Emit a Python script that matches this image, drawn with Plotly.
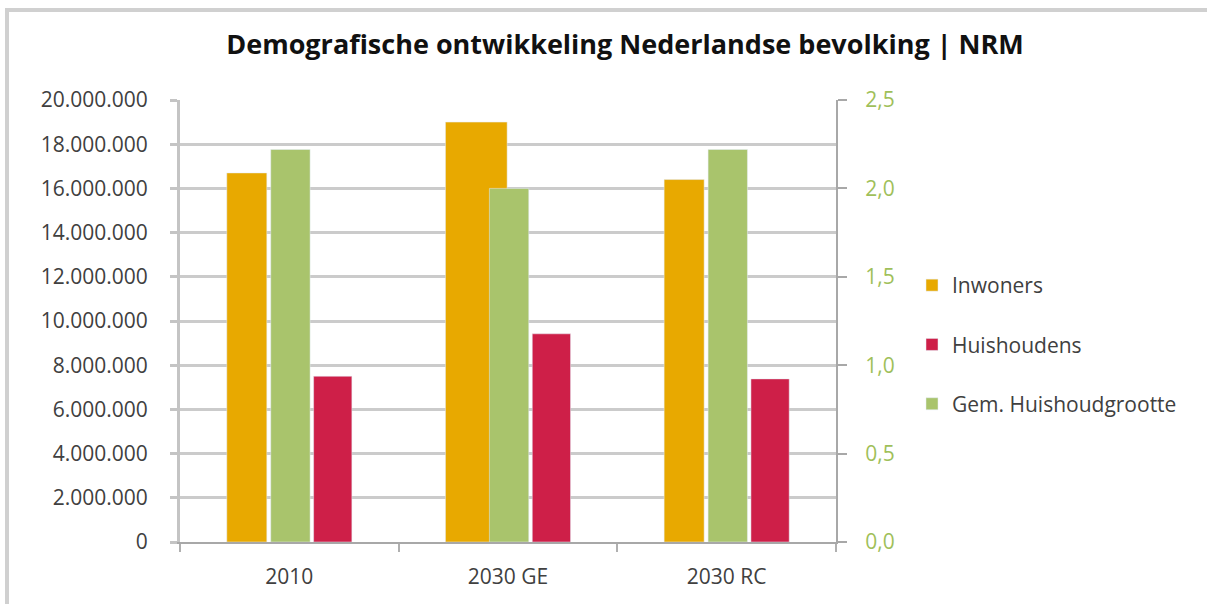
import plotly.graph_objects as go

categories = ["2010", "2030 GE", "2030 RC"]
inwoners = [16700000, 19000000, 16400000]
huishoudens = [7500000, 9420000, 7380000]
huishoudgrootte = [2.22, 2.0, 2.22]

y_ticks = list(range(0, 20000001, 2000000))
y_ticklabels = ["{:,}".format(v).replace(",", ".") for v in y_ticks]
y2_ticks = [0, 0.5, 1.0, 1.5, 2.0, 2.5]
y2_ticklabels = ["0,0", "0,5", "1,0", "1,5", "2,0", "2,5"]

C_OR = "#E8A900"
C_RED = "#CE1F48"
C_GR = "#A9C46C"

L, R, T, B = 180, 371, 100, 62
W, H = 1207, 604
PW, PH = W - L - R, H - T - B

def px(x):
    return (x - L) / PW

def py(y):
    return (H - B - y) / PH

fig = go.Figure()
# Inwoners: middle category bar is drawn wider in the reference
fig.add_trace(go.Bar(x=categories, y=inwoners, name="Inwoners", marker_color=C_OR,
                     width=[0.183, 0.282, 0.183], offset=-0.286,
                     legendgroup="a", yaxis="y"))
fig.add_trace(go.Bar(x=categories, y=huishoudens, name="Huishoudens", marker_color=C_RED,
                     width=0.175, offset=0.111, legendgroup="b", yaxis="y"))
fig.add_trace(go.Bar(x=categories, y=huishoudgrootte, name="Gem. Huishoudgrootte", marker_color=C_GR,
                     width=0.180, offset=-0.085, legendgroup="c", yaxis="y2"))

FS = 21
tickfont = dict(family="Open Sans", size=FS, color="#404040")

fig.update_layout(
    width=W, height=H,
    margin=dict(l=L, r=R, t=T, b=B),
    paper_bgcolor="white", plot_bgcolor="white",
    barmode="overlay",
    title=dict(text="<b>Demografische ontwikkeling Nederlandse bevolking | NRM</b>",
               x=625 / W, xanchor="center", y=1 - 45 / H, yanchor="middle",
               font=dict(family="Open Sans", size=27, color="#111111")),
    xaxis=dict(type="category", tickson="boundaries", ticks="outside", ticklen=8,
               tickcolor="#b0b0b0", tickwidth=2,
               showline=True, linecolor="#a8a8a8", linewidth=2,
               tickfont=tickfont, showgrid=False, range=[-0.5, 2.5],
               ticklabelstandoff=15),
    yaxis=dict(range=[0, 20000000], tickvals=y_ticks, ticktext=y_ticklabels,
               ticks="outside", ticklen=7, tickcolor="#c4c4c4", tickwidth=3,
               showline=True, linecolor="#c4c4c4", linewidth=3,
               showgrid=True, gridcolor="#cbcbcb", gridwidth=3,
               tickfont=tickfont, zeroline=False, ticklabelstandoff=18),
    yaxis2=dict(range=[0, 2.5], tickvals=y2_ticks, ticktext=y2_ticklabels,
                overlaying="y", side="right",
                ticks="outside", ticklen=9, tickcolor="#a8a8a8", tickwidth=2,
                showline=True, linecolor="#a8a8a8", linewidth=2,
                showgrid=False, zeroline=False,
                tickfont=dict(family="Open Sans", size=FS, color="#9FBF5A"),
                ticklabelstandoff=14),
    legend=dict(x=px(912), y=py(265), xanchor="left", yanchor="top",
                font=dict(family="Open Sans", size=21, color="#404040"),
                tracegroupgap=29, bgcolor="rgba(0,0,0,0)"),
    showlegend=True,
    shapes=[
        dict(type="line", xref="paper", yref="paper", x0=px(5), x1=px(1207), y0=py(10), y1=py(10),
             line=dict(color="#d0d0d0", width=4)),
        dict(type="line", xref="paper", yref="paper", x0=px(7), x1=px(7), y0=py(10), y1=py(604),
             line=dict(color="#d0d0d0", width=4)),
    ],
)

fig.write_html("out.html", config={"displayModeBar": False},
               post_script="document.body.style.margin='0';document.body.style.overflow='hidden';")
